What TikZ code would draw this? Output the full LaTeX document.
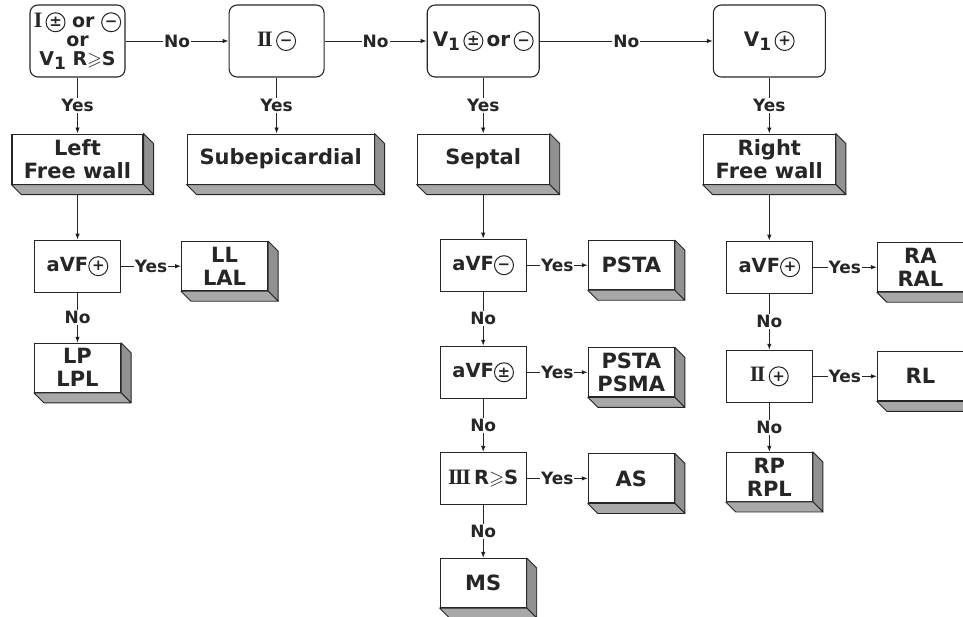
\documentclass[tikz,border=0pt]{standalone}
\usepackage{amssymb}
\usepackage{fontspec}
\setmainfont{DejaVu Sans}
\newfontfamily\romanfont{Liberation Serif}
\usetikzlibrary{arrows.meta,positioning}
\definecolor{ink}{RGB}{38,38,38}
\definecolor{sidegray}{RGB}{145,145,145}
\definecolor{basegray}{RGB}{168,168,168}
\newcommand{\circsign}[1]{\tikz[baseline=-5.5pt]\node[anchor=center,circle,draw=ink,line width=1pt,inner sep=0pt,minimum size=19pt,font=\fontsize{15}{15}\selectfont\bfseries] at (0,0) {\vphantom{+}#1};}
\newcommand{\Vone}{V\lower4pt\hbox{\fontsize{17}{17}\selectfont 1}}
\newcommand{\rnum}[1]{{\romanfont\bfseries\fontsize{22}{22}\selectfont #1}}
\newcommand{\RgeS}{R$\geqslant$S}
\newcommand{\slab}[1]{%
  \filldraw[slabside] (#1.north east) -- ++(10,-10) -- ([shift={(10,-10)}]#1.south east) -- (#1.south east) -- cycle;
  \filldraw[slabbase] (#1.south west) -- (#1.south east) -- ++(10,-10) -- ([shift={(10,-10)}]#1.south west) -- cycle;}

\begin{document}
\begin{tikzpicture}[x=1pt,y=1pt,>=Latex,every node/.style={align=center,text=ink},
  qbox/.style={draw=ink,line width=1.1pt,rounded corners=8pt,minimum width=95pt,minimum height=72pt,inner sep=1pt,font=\fontsize{20}{18}\selectfont\bfseries},
  tbox/.style={draw=ink,line width=1.1pt,minimum width=86pt,minimum height=52pt,inner sep=1pt,font=\fontsize{19.5}{20}\selectfont\bfseries},
  wbox/.style={draw=ink,line width=1.1pt,fill=white,minimum width=86pt,minimum height=49pt,inner sep=1pt,font=\fontsize{21}{23}\selectfont\bfseries},
  lbl/.style={fill=white,inner sep=1pt,font=\fontsize{17}{17}\selectfont\bfseries},
  flow/.style={-{Latex[length=6pt,width=4.5pt]},line width=0.9pt,draw=ink},
  slabside/.style={fill=sidegray,draw=ink,line width=0.9pt,line join=round},
  slabbase/.style={fill=basegray,draw=ink,line width=0.9pt,line join=round}]
  \useasboundingbox (0,0) rectangle (963,-617);
  % questions along the top
  \node[qbox,font=\fontsize{19}{19}\selectfont\bfseries] (q1) at (77.5,-41) {\rnum{I}\,\circsign{±} or \circsign{−}\\or\\\Vone\ \RgeS};
  \node[qbox,right=103pt of q1] (q2) {\rnum{I\kern-1.5pt I}\,\circsign{−}};
  \node[qbox,minimum width=112pt,right=102pt of q2] (q3) {\Vone\,\circsign{±}\,or\,\circsign{−}};
  \node[qbox,minimum width=112pt,right=173pt of q3] (q4) {\Vone\,\circsign{+}};
  % walls
  \node[wbox,minimum width=131pt,minimum height=50pt,below=56pt of q1] (lwall) {Left\\Free wall};
  \node[wbox,minimum width=187pt,minimum height=50pt,below=56pt of q2,xshift=4pt] (subepi) {Subepicardial};
  \node[wbox,minimum width=132pt,minimum height=50pt,below=56pt of q3] (septal) {Septal};
  \node[wbox,minimum width=132pt,minimum height=50pt,below=56pt of q4] (rwall) {Right\\Free wall};
  % left free wall
  \node[tbox,below=55pt of lwall] (lavf) {aVF\circsign{+}};
  \node[wbox,right=60pt of lavf] (ll) {LL\\LAL};
  \node[wbox,below=50pt of lavf] (lp) {LP\\LPL};
  % septal
  \node[tbox,below=54pt of septal] (savfm) {aVF\circsign{−}};
  \node[wbox,right=61pt of savfm] (psta) {PSTA};
  \node[tbox,below=54pt of savfm] (savfpm) {aVF\circsign{±}};
  \node[wbox,right=61pt of savfpm] (pstma) {PSTA\\PSMA};
  \node[tbox,below=53pt of savfpm] (siii) {\rnum{I\kern-1.5pt I\kern-1.5pt I}\,\RgeS};
  \node[wbox,right=61pt of siii] (as) {AS};
  \node[wbox,below=53pt of siii] (ms) {MS};
  % right free wall
  \node[tbox,below=56pt of rwall] (ravf) {aVF\circsign{+}};
  \node[wbox,right=64pt of ravf] (ra) {RA\\RAL};
  \node[tbox,below=56pt of ravf] (rii) {\rnum{I\kern-1.5pt I}\,\circsign{+}};
  \node[wbox,right=64pt of rii] (rl) {RL};
  \node[wbox,below=49pt of rii] (rp) {RP\\RPL};
  % connectors
  \draw[flow] (q1) -- node[lbl]{No} (q2);
  \draw[flow] (q2) -- node[lbl]{No} (q3);
  \draw[flow] (q3) -- node[lbl]{No} (q4);
  \draw[flow] (q1) -- node[lbl]{Yes} (lwall);
  \draw[flow] (q2.south) -- node[lbl]{Yes} (q2.south |- subepi.north);
  \draw[flow] (q3) -- node[lbl]{Yes} (septal);
  \draw[flow] (q4) -- node[lbl]{Yes} (rwall);
  \draw[flow] (lwall) -- (lavf);
  \draw[flow] (lavf) -- node[lbl]{Yes} (ll);
  \draw[flow] (lavf) -- node[lbl]{No} (lp);
  \draw[flow] (septal) -- (savfm);
  \draw[flow] (savfm) -- node[lbl]{Yes} (psta);
  \draw[flow] (savfm) -- node[lbl]{No} (savfpm);
  \draw[flow] (savfpm) -- node[lbl]{Yes} (pstma);
  \draw[flow] (savfpm) -- node[lbl]{No} (siii);
  \draw[flow] (siii) -- node[lbl]{Yes} (as);
  \draw[flow] (siii) -- node[lbl]{No} (ms);
  \draw[flow] (rwall) -- (ravf);
  \draw[flow] (ravf) -- node[lbl]{Yes} (ra);
  \draw[flow] (ravf) -- node[lbl]{No} (rii);
  \draw[flow] (rii) -- node[lbl]{Yes} (rl);
  \draw[flow] (rii) -- node[lbl]{No} (rp);
  % slab faces
  \foreach \n in {lwall,subepi,septal,rwall,ll,lp,psta,pstma,as,ms,ra,rl,rp}
    {\slab{\n}}
\end{tikzpicture}
\end{document}
